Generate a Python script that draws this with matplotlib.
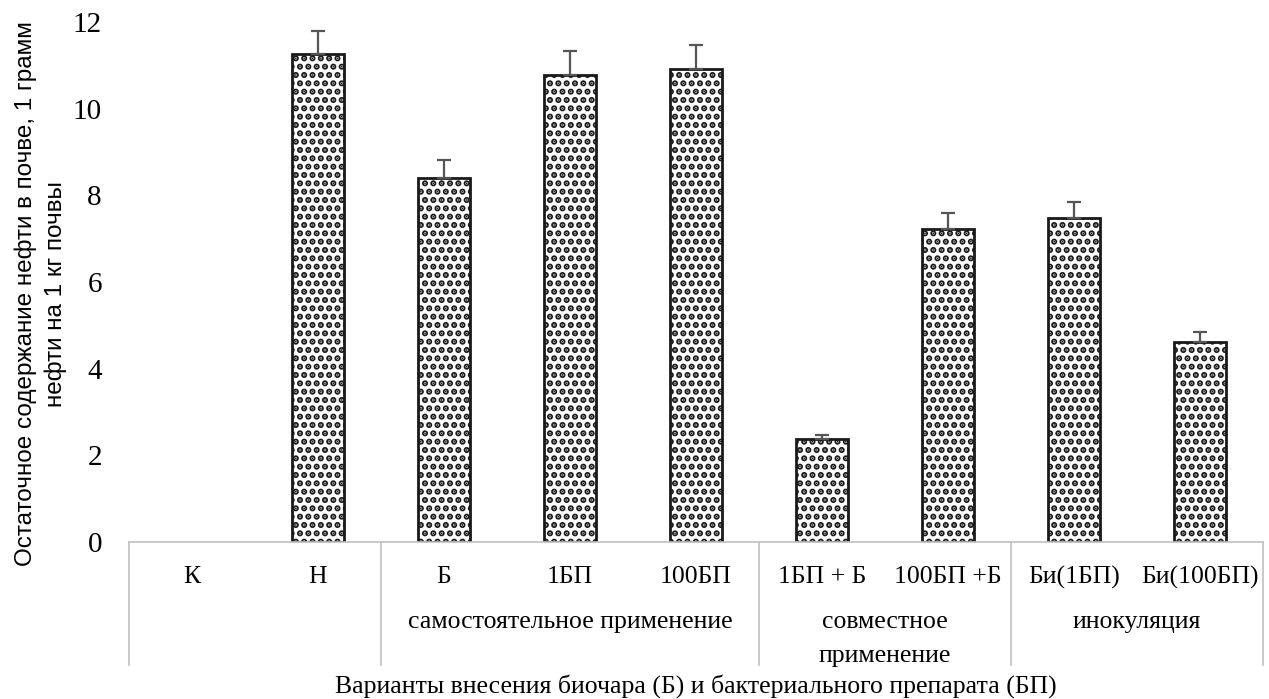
import matplotlib.pyplot as plt
import matplotlib.transforms as mtransforms

plt.rcParams["hatch.linewidth"] = 3.1
plt.rcParams["hatch.color"] = "#111111"

categories = ["К", "Н", "Б", "1БП", "100БП", "1БП + Б", "100БП +Б", "Би(1БП)", "Би(100БП)"]
values = [0.0, 11.26, 8.40, 10.78, 10.92, 2.38, 7.22, 7.48, 4.62]
errors = [0.0, 0.54, 0.42, 0.54, 0.55, 0.09, 0.37, 0.37, 0.23]
groups = [
    (2, 4, "самостоятельное применение"),
    (5, 6, "совместное\nприменение"),
    (7, 8, "инокуляция"),
]
separators = [-0.5, 1.5, 4.5, 6.5, 8.5]
y_ticks = [0, 2, 4, 6, 8, 10, 12]

serif = "Liberation Serif"
sans = "Liberation Sans"

fig = plt.figure(figsize=(12.69, 6.99), dpi=100)
ax = fig.add_axes([129 / 1269, 1 - 542 / 699, (1263 - 129) / 1269, (542 - 22) / 699])

x = list(range(len(categories)))
bars = ax.bar(
    x,
    values,
    width=0.41,
    color="white",
    edgecolor="#1a1a1a",
    linewidth=2.0,
    hatch="..",
    zorder=2,
)
for bar, v in zip(bars, values):
    if v == 0:
        bar.set_visible(False)

shown = [i for i, v in enumerate(values) if v > 0]
ax.errorbar(
    [x[i] for i in shown],
    [values[i] for i in shown],
    yerr=[[0] * len(shown), [errors[i] for i in shown]],
    fmt="none",
    ecolor="#555555",
    elinewidth=1.6,
    capsize=5,
    capthick=1.6,
    zorder=3,
)

ax.set_xlim(-0.5, len(categories) - 0.5)
ax.set_ylim(0, 12)
ax.set_yticks(y_ticks)
ax.set_yticklabels([str(t) for t in y_ticks], family=serif, fontsize=21)
ax.tick_params(axis="y", length=0, pad=19.5)
ax.set_xticks([])
for side in ["top", "right", "left"]:
    ax.spines[side].set_visible(False)
ax.spines["bottom"].set_color("#c0c0c0")
ax.spines["bottom"].set_linewidth(1.2)

trans = mtransforms.blended_transform_factory(ax.transData, ax.transAxes)
px = 1 / 520  # one pixel in axes height

for xi, label in zip(x, categories):
    ax.text(xi, -35 * px, label, transform=trans, ha="center", va="center",
            family=serif, fontsize=18.5)

for start, end, label in groups:
    ax.text((start + end) / 2, -69 * px, label, transform=trans, ha="center",
            va="top", family=serif, fontsize=18.5, linespacing=1.7)

for sx in separators:
    ax.plot([sx, sx], [0, -123 * px], transform=trans, color="#c0c0c0",
            linewidth=1.2, clip_on=False)

ax.text(0.5, -144 * px, "Варианты внесения биочара (Б) и бактериального препарата (БП)",
        transform=ax.transAxes, ha="center", va="center", family=serif, fontsize=18.5)

fig.text(41 / 1269, 1 - 294 / 699,
         "Остаточное содержание нефти в почве, 1 грамм\nнефти на 1 кг почвы",
         rotation=90, ha="center", va="center", family=sans, fontsize=17.5,
         linespacing=1.45)

fig.savefig("out.png", dpi=100)
